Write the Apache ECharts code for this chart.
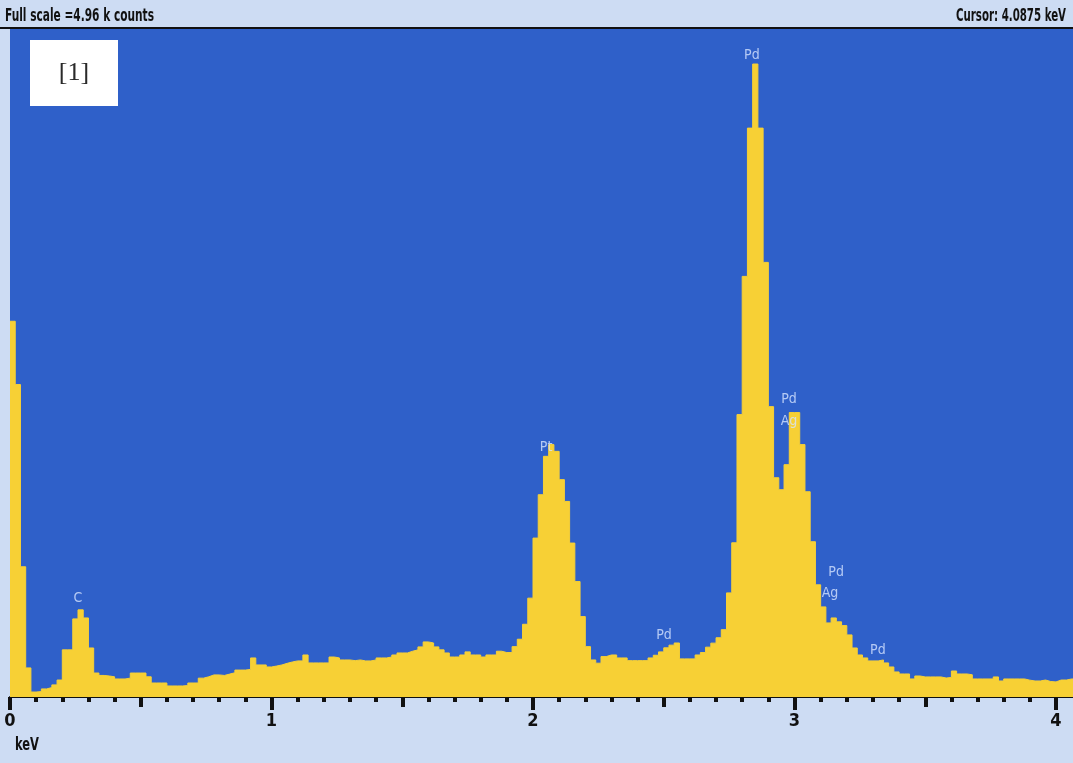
<!DOCTYPE html>
<html><head><meta charset="utf-8">
<script src="https://cdn.jsdelivr.net/npm/echarts@6/dist/echarts.min.js"></script>
<style>html,body{margin:0;padding:0;background:#cddcf3}#c{width:1073px;height:763px}</style>
</head><body><div id="c"></div>
<script>
// ---- data ----
const channelWidthKeV = 0.02;   // 20 eV channels
const counts = [
 2790,2320,967,216,37,40,60,70,90,126,
 350,350,580,647,587,364,178,160,156,150,
 134,134,140,178,178,178,150,104,104,104,
 82,82,82,85,104,104,140,150,164,164,
 160,170,180,200,200,205,290,238,238,223,
 230,238,250,260,268,268,312,253,253,253,
 253,297,290,275,275,270,275,268,268,275,
 290,290,297,312,327,327,340,350,372,409,
 401,372,350,327,297,297,312,335,312,312,
 297,312,312,340,330,330,374,429,540,734,
 1180,1502,1787,1874,1824,1614,1452,1143,857,597,
 374,275,251,300,312,312,290,290,270,270,
 270,270,290,310,335,365,385,401,283,283,
 283,312,330,370,400,440,500,773,1145,2097,
 3123,4224,4700,4224,3227,2156,1628,1539,1725,2112,
 2112,1874,1524,1153,833,669,550,587,558,530,
 461,364,312,290,268,268,275,253,223,186,
 171,171,134,156,149,149,149,149,141,145,
 193,171,171,165,134,134,134,134,149,119,
 134,134,134,134,125,119,119,126,115,112,
 126,126,134,134
];
const fullScaleCounts = 4960;
const xMaxKeV = 4.065;
const majorTickValues = [0, 1, 2, 3, 4];
const majorTickLabels = ['0', '1', '2', '3', '4'];
const halfTickValues = [0.5, 1.5, 2.5, 3.5];
const peakNames    = ['C', 'Pt', 'Pd', 'Pd', 'Ag', 'Pd', 'Ag', 'Pd', 'Pd'];
const peakEnergies = [0.26, 2.05, 2.837, 2.979, 2.979, 3.159, 3.136, 2.501, 3.319];
const peakLabelY   = [736, 1852, 4767, 2208, 2045, 929, 766, 461, 350];
const headerLeft = 'Full scale =4.96 k counts';
const headerRight = 'Cursor: 4.0875 keV';
const unitLabel = 'keV';
const panelTag = '[1]';

// ---- styles ----
const BLUE = '#2f60c9', YELLOW = '#f7d035', PALE = '#cddcf3', INK = '#111111', LABEL = '#d6e4ff';
const NARROW = "'Liberation Sans Narrow','DejaVu Sans Condensed','Liberation Sans',sans-serif";

const ctx = document.createElement('canvas').getContext('2d');
function fitScale(text, font, width) { ctx.font = font; return width / ctx.measureText(text).width; }

const stepData = counts.map((c, i) => [i * channelWidthKeV, c]);
stepData.push([counts.length * channelWidthKeV, counts[counts.length - 1]]);

const minorTickValues = Array.from({length: 41}, (_, k) => +(k * 0.1).toFixed(1));

const xBase = {type: 'value', min: 0, max: xMaxKeV, gridIndex: 0, position: 'bottom', splitLine: {show: false}};

const chart = echarts.init(document.getElementById('c'), null, {renderer: 'canvas'});
const hFont = "bold 17px " + NARROW;
chart.setOption({
  animation: false,
  backgroundColor: PALE,
  grid: {left: 10, right: 0, top: 29, bottom: 66, show: true, backgroundColor: BLUE, borderWidth: 0},
  xAxis: [
    Object.assign({}, xBase, {
      axisLine: {show: true, onZero: false, lineStyle: {color: INK, width: 2}},
      axisTick: {show: true, length: 5, customValues: minorTickValues, lineStyle: {color: INK, width: 4}},
      axisLabel: {show: false}
    }),
    Object.assign({}, xBase, {
      axisLine: {show: false},
      axisTick: {show: true, length: 10, customValues: halfTickValues, lineStyle: {color: INK, width: 4}},
      axisLabel: {show: false}
    }),
    Object.assign({}, xBase, {
      axisLine: {show: false},
      axisTick: {show: true, length: 13, customValues: majorTickValues, lineStyle: {color: INK, width: 4}},
      axisLabel: {show: true, customValues: majorTickValues, margin: 15, fontSize: 18, fontWeight: 'bold',
        fontFamily: NARROW, color: INK,
        formatter: v => majorTickLabels[majorTickValues.indexOf(Math.round(v))] || ''}
    })
  ],
  yAxis: {type: 'value', min: 0, max: fullScaleCounts, show: false},
  series: [
    {
      type: 'line', step: 'end', data: stepData, symbol: 'none', xAxisIndex: 0,
      lineStyle: {color: YELLOW, width: 1}, areaStyle: {color: YELLOW, opacity: 1},
      z: 2, silent: true
    },
    {
      type: 'scatter', xAxisIndex: 0, symbolSize: 0, z: 5, silent: true,
      data: peakNames.map((n, i) => ({name: n, value: [peakEnergies[i], peakLabelY[i]]})),
      label: {show: true, position: 'inside', formatter: p => p.name, color: LABEL,
        fontSize: 14, fontFamily: NARROW}
    }
  ],
  graphic: [
    {type: 'rect', shape: {x: 0, y: 27, width: 1073, height: 2}, style: {fill: INK}, z: 10},
    {type: 'text', x: 5, y: 17, scaleX: fitScale(headerLeft, hFont, 149),
      style: {text: headerLeft, font: hFont, fill: INK, textAlign: 'left', textVerticalAlign: 'middle'}, z: 10},
    {type: 'text', x: 1066, y: 17, scaleX: fitScale(headerRight, hFont, 110),
      style: {text: headerRight, font: hFont, fill: INK, textAlign: 'right', textVerticalAlign: 'middle'}, z: 10},
    {type: 'text', x: 15, y: 745, scaleX: fitScale(unitLabel, "bold 18px " + NARROW, 24),
      style: {text: unitLabel, font: "bold 18px " + NARROW, fill: INK, textAlign: 'left', textVerticalAlign: 'middle'}, z: 10},
    {type: 'rect', shape: {x: 30, y: 40, width: 88, height: 66}, style: {fill: '#ffffff'}, z: 10},
    {type: 'text', x: 74, y: 73,
      style: {text: panelTag, font: "26px 'Liberation Serif','DejaVu Serif',serif", fill: '#2a2a2a', textAlign: 'center', textVerticalAlign: 'middle'}, z: 11}
  ]
});
</script></body></html>
